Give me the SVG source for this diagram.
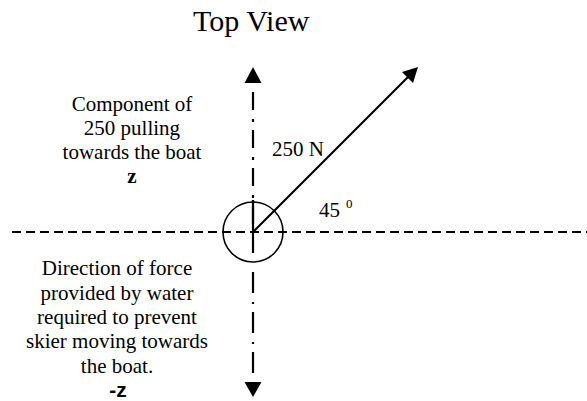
<svg xmlns="http://www.w3.org/2000/svg" width="587" height="401" viewBox="0 0 587 401">
<style>
text{font-family:"Liberation Serif","Times New Roman",serif;fill:#000}
.lbl{font-size:21px;text-anchor:middle}
.b{font-weight:bold}
.hd{fill:none;stroke:#000;stroke-width:2;stroke-dasharray:9 5}
.dd{fill:none;stroke:#000;stroke-width:2.2}
.ah{fill:#000;stroke:none}
</style>
<rect width="587" height="401" fill="#fff"/>
<text x="193" y="31" font-size="30">Top View</text>
<g id="axes">
<line class="hd" x1="12" y1="232" x2="587" y2="232"/>
<line class="dd" x1="253" y1="92" x2="253" y2="230" stroke-dasharray="18 9 3 8"/>
<line class="dd" x1="253" y1="200" x2="253" y2="253"/>
<line class="dd" x1="253" y1="272" x2="253" y2="382" stroke-dasharray="21 9 2 8"/>
<polygon class="ah" points="253,67 261.5,83 244.5,83"/>
<polygon class="ah" points="253,397 261.5,382 244.5,382"/>
</g>
<g id="skier">
<circle cx="253" cy="232" r="30" fill="none" stroke="#000" stroke-width="1.6"/>
</g>
<g id="connectors">
<line x1="253" y1="232" x2="409" y2="76" stroke="#000" stroke-width="2.2"/>
<polygon class="ah" points="418,67 413,83 402,72"/>
</g>
<g id="labels">
<text x="272" y="156" font-size="21">250 N</text>
<text x="319" y="217" font-size="21">45</text>
<text x="346" y="208" font-size="13">0</text>
<text class="lbl" x="132" y="111">Component of</text>
<text class="lbl" x="132" y="135">250 pulling</text>
<text class="lbl" x="132" y="159">towards the boat</text>
<text class="lbl b" x="132" y="183" font-size="17">z</text>
<text class="lbl" x="117" y="275">Direction of force</text>
<text class="lbl" x="117" y="300">provided by water</text>
<text class="lbl" x="117" y="324">required to prevent</text>
<text class="lbl" x="117" y="348">skier moving towards</text>
<text class="lbl" x="117" y="373">the boat.</text>
<text class="lbl b" x="118" y="397" style="font-family:'Liberation Sans',sans-serif" font-size="15">-z</text>
</g>
</svg>
